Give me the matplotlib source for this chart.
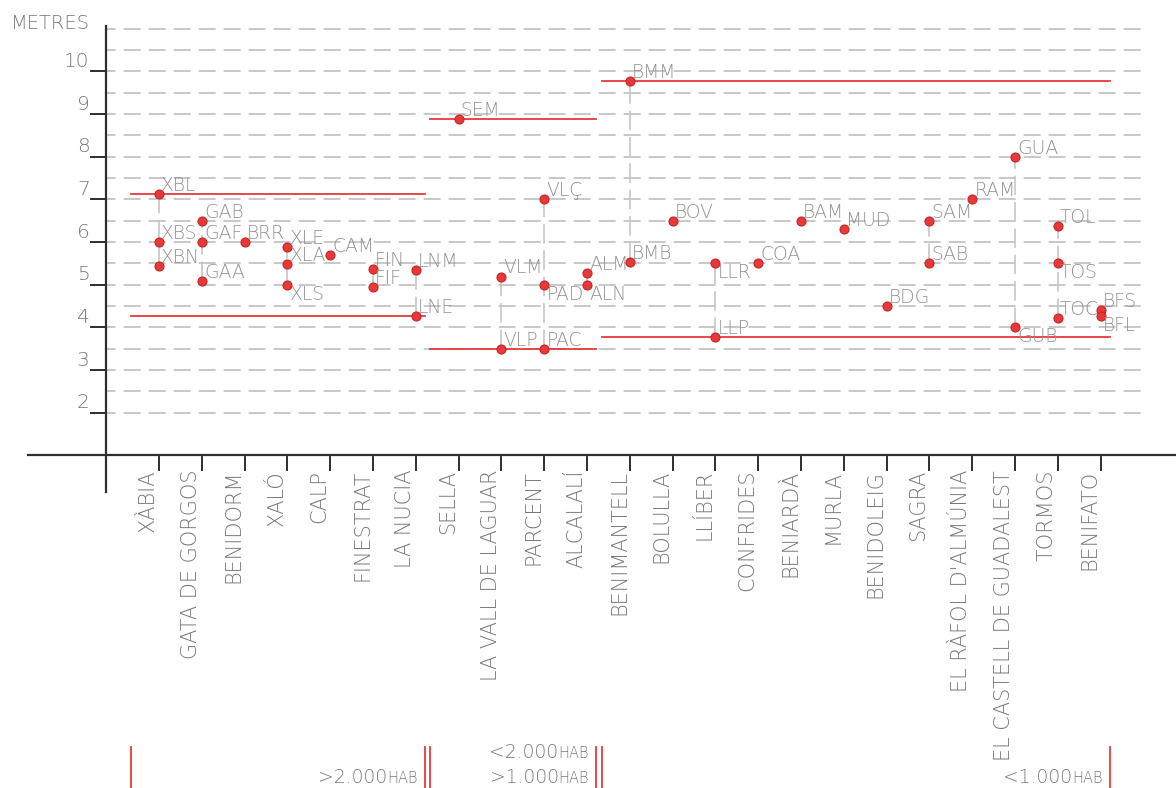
import matplotlib
matplotlib.use('Agg')
import matplotlib.pyplot as plt

plt.rcParams['font.family'] = ['DejaVu Sans']
plt.rcParams['font.weight'] = 'light'
plt.rcParams['lines.scale_dashes'] = False

# municipis (eix x)
categories = ['XÀBIA', 'GATA DE GORGOS', 'BENIDORM', 'XALÓ', 'CALP', 'FINESTRAT',
              'LA NUCIA', 'SELLA', 'LA VALL DE LAGUAR', 'PARCENT', 'ALCALALÍ',
              'BENIMANTELL', 'BOLULLA', 'LLÍBER', 'CONFRIDES', 'BENIARDÀ', 'MURLA',
              'BENIDOLEIG', 'SAGRA', "EL RÀFOL D'ALMÚNIA", 'EL CASTELL DE GUADALEST',
              'TORMOS', 'BENIFATO']

# punts mesurats
point_codes = ['XBL', 'XBS', 'XBN', 'GAB', 'GAF', 'GAA', 'BRR', 'XLE', 'XLA', 'XLS',
               'CAM', 'FIN', 'FIF', 'LNM', 'LNE', 'SEM', 'VLM', 'VLP', 'VLÇ', 'PAD',
               'PAC', 'ALM', 'ALN', 'BMM', 'BMB', 'BOV', 'LLR', 'LLP', 'COA', 'BAM',
               'MUD', 'BDG', 'SAM', 'SAB', 'RAM', 'GUA', 'GUB', 'TOL', 'TOS', 'TOC',
               'BFS', 'BFL']
point_cat = [0, 0, 0, 1, 1, 1, 2, 3, 3, 3,
             4, 5, 5, 6, 6, 7, 8, 8, 9, 9,
             9, 10, 10, 11, 11, 12, 13, 13, 14, 15,
             16, 17, 18, 18, 19, 20, 20, 21, 21, 21,
             22, 22]
point_val = [7.12, 6.0, 5.43, 6.5, 6.0, 5.09, 6.0, 5.88, 5.48, 5.0,
             5.69, 5.36, 4.94, 5.34, 4.26, 8.89, 5.19, 3.5, 7.0, 5.0,
             3.5, 5.27, 5.0, 9.77, 5.52, 6.5, 5.51, 3.78, 5.51, 6.5,
             6.31, 4.5, 6.5, 5.5, 7.0, 8.0, 4.0, 6.38, 5.51, 4.21,
             4.40, 4.26]
labels_below = ['XLS', 'PAD', 'ALN', 'LLR', 'GUB', 'TOS', 'BFL']

# grups de poblacio: max / min i extensio
group_max = [7.12, 8.89, 9.77]
group_min = [4.26, 3.5, 3.78]
group_start = [-0.654, 6.332, 10.35]
group_end = [6.215, 10.21, 22.22]
group_top_text = ['', '<2.000', '']
group_bottom_text = ['>2.000', '>1.000', '<1.000']
group_text_x = [6.05, 10.05, 22.05]

yticks = [2, 3, 4, 5, 6, 7, 8, 9, 10]

RED = '#e8383a'
AXC = '#2e2e2e'
TXT = '#787878'
LBL = '#929292'

fig = plt.figure(figsize=(11.76, 7.88), dpi=100)
ax = fig.add_axes([0, 0, 1, 1])
ax.set_xlim(-3.715, 23.762)
ax.set_ylim(-6.797, 11.670)
ax.axis('off')

# graella
g = 2.0
while g <= 11.0:
    ax.plot([-1.215, 23.01], [g, g], color='#c4c4c4', lw=1.3,
            linestyle=(6, (12.2, 5.8)), zorder=1)
    g += 0.5

# eixos
ax.plot([-3.06, 23.762], [1, 1], color=AXC, lw=1.6, zorder=3)
ax.plot([-1.238, -1.238], [0.14, 11.05], color=AXC, lw=1.6, zorder=3)
for t in yticks:
    ax.plot([-1.589, -1.238], [t, t], color=AXC, lw=1.4, zorder=3)
    ax.text(-1.62, t + 0.1, str(t), ha='right', va='baseline',
            fontsize=14.5, color=TXT)
ax.text(-3.46, 10.98, 'METRES', ha='left', va='baseline', fontsize=14, color=TXT)

for i, name in enumerate(categories):
    ax.plot([i, i], [1, 0.648], color=AXC, lw=1.4, zorder=3)
    ax.text(i - 0.02, 0.66, name, rotation=90, ha='right', va='top',
            fontsize=15, color=TXT)

# linies verticals de cada municipi
for c in range(len(categories)):
    vals = [v for k, v in zip(point_cat, point_val) if k == c]
    if len(vals) > 1:
        ax.plot([c, c], [min(vals), max(vals)], color='#c6c6c6', lw=1.2,
                linestyle=(0, (14, 5)), zorder=2)

# linies de grup
for gmax, gmin, x0, x1 in zip(group_max, group_min, group_start, group_end):
    ax.plot([x0, x1], [gmax, gmax], color=RED, lw=1.3, zorder=4)
    ax.plot([x0, x1], [gmin, gmin], color=RED, lw=1.3, zorder=4)
    ax.plot([x0, x0], [-5.84, -6.797], color=RED, lw=1.3, zorder=4)
    ax.plot([x1, x1], [-5.84, -6.797], color=RED, lw=1.3, zorder=4)

# punts
ax.scatter(point_cat, point_val, s=42, color=RED, edgecolor='#c42525',
           linewidth=0.8, zorder=5)
for code, c, v in zip(point_codes, point_cat, point_val):
    if code in labels_below:
        ax.annotate(code, (c, v), xytext=(1.6, 0), textcoords='offset points',
                    ha='left', va='top', fontsize=13.5, color=LBL, zorder=6)
    else:
        ax.annotate(code, (c, v), xytext=(1.6, 2.2), textcoords='offset points',
                    ha='left', va='baseline', fontsize=13.5, color=LBL, zorder=6)

# textos de poblacio
renderer = fig.canvas.get_renderer()
for top, bottom, x in zip(group_top_text, group_bottom_text, group_text_x):
    for txt, y in [(top, -6.09), (bottom, -6.68)]:
        if not txt:
            continue
        h = ax.text(x, y, 'HAB', ha='right', va='baseline', fontsize=10.5, color=TXT)
        w = h.get_window_extent(renderer).width
        ax.annotate(txt, (x, y), xytext=(-w * 72 / fig.dpi, 0),
                    textcoords='offset points', ha='right', va='baseline',
                    fontsize=13.5, color=TXT)

fig.savefig('out.png', dpi=100)
